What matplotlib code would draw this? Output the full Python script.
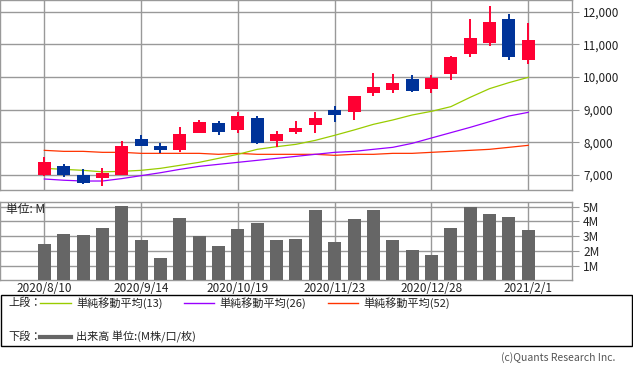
import matplotlib
matplotlib.use("Agg")
import matplotlib.pyplot as plt
from matplotlib.lines import Line2D
from matplotlib.patches import Rectangle

plt.rcParams['font.family'] = ['Noto Sans CJK JP', 'DejaVu Sans']

# ---------------- data ----------------
tick_labels = ["2020/8/10", "2020/9/14", "2020/10/19", "2020/11/23", "2020/12/28", "2021/2/1"]
tick_index = [0, 5, 10, 15, 20, 25]

opens  = [7000, 7275, 7000, 6918, 7000, 8102, 7888, 7765, 8296, 8592, 8388, 8745, 8051,
          8316, 8541, 8990, 8939, 9520, 9612, 9939, 9622, 10082, 10704, 11041, 11765, 10520]
highs  = [7551, 7347, 7184, 7214, 8041, 8224, 7990, 8469, 8694, 8663, 8929, 8816, 8347,
          8653, 8929, 9112, 9420, 10133, 10102, 10071, 10071, 10653, 11776, 12163, 11918, 11643]
lows   = [6980, 6950, 6714, 6673, 6990, 7880, 7683, 7714, 8290, 8235, 8286, 7959, 7868,
          8265, 8296, 8633, 8684, 9429, 9520, 9551, 9500, 9898, 10612, 10949, 10520, 10398]
closes = [7398, 7000, 6745, 7071, 7898, 7898, 7765, 8255, 8622, 8316, 8816, 7990, 8265,
          8439, 8745, 8837, 9418, 9694, 9816, 9582, 9980, 10622, 11184, 11673, 10612, 11122]

ma13 = [7204, 7173, 7143, 7097, 7112, 7143, 7204, 7296, 7388, 7510, 7633, 7786, 7867,
        7939, 8061, 8215, 8378, 8551, 8684, 8837, 8949, 9092, 9378, 9643, 9827, 9990]
ma26 = [6878, 6840, 6816, 6816, 6890, 6980, 7070, 7173, 7265, 7327, 7388, 7449, 7510,
        7571, 7633, 7694, 7724, 7786, 7847, 7969, 8133, 8296, 8459, 8633, 8806, 8918]
ma52 = [7755, 7724, 7724, 7694, 7694, 7663, 7663, 7663, 7663, 7633, 7663, 7633, 7633,
        7633, 7633, 7602, 7633, 7633, 7663, 7663, 7694, 7724, 7755, 7786, 7847, 7908]

volume = [2.45, 3.13, 3.06, 3.53, 5.04, 2.72, 1.51, 4.21, 2.99, 2.32, 3.47, 3.87, 2.72,
          2.79, 4.75, 2.59, 4.14, 4.75, 2.72, 2.05, 1.71, 3.53, 4.97, 4.48, 4.28, 3.40]

price_ticks = [7000, 8000, 9000, 10000, 11000, 12000]
vol_ticks = [1, 2, 3, 4, 5]

# ---------------- style ----------------
W, H = 633, 371
UP = '#ff0033'
DOWN = '#003399'
GRID = '#999999'
TXT = '#222222'
C13, C26, C52 = '#99cc00', '#9900ff', '#ff3300'
VOLC = '#666666'


def fx(px):
    return px / W


def fy(py):
    return 1 - py / H


fig = plt.figure(figsize=(W / 100, H / 100), dpi=100)
fig.patch.set_facecolor('white')

xlim = (-2.29, 27.26)
idx = list(range(len(opens)))
bw = 0.67

# ---------------- price axes ----------------
ax = fig.add_axes([fx(0), fy(190), fx(572), 190 / H])
ax.set_xlim(*xlim)
ax.set_ylim(6541, 12357)
for s in ax.spines.values():
    s.set_color(GRID)
    s.set_linewidth(1.0)
ax.set_yticks(price_ticks)
ax.set_yticklabels([f"{v:,}" for v in price_ticks])
ax.yaxis.tick_right()
ax.tick_params(axis='y', length=5, width=0.8, color=GRID, labelcolor=TXT, labelsize=8.5, pad=3)
ax.set_xticks(tick_index)
ax.tick_params(axis='x', length=0, labelbottom=False)
ax.grid(True, color=GRID, linewidth=1.0)
ax.set_axisbelow(True)

ax.plot(idx, ma52, color=C52, linewidth=0.9, zorder=2)
ax.plot(idx, ma26, color=C26, linewidth=0.9, zorder=2)
ax.plot(idx, ma13, color=C13, linewidth=0.9, zorder=2)

colors = [UP if c >= o else DOWN for o, c in zip(opens, closes)]
ax.vlines(idx, lows, highs, colors=colors, linewidth=1.4, zorder=3)
bottoms = [min(o, c) for o, c in zip(opens, closes)]
heights = [abs(c - o) for o, c in zip(opens, closes)]
ax.bar(idx, heights, bottom=bottoms, width=bw, color=colors, linewidth=0, zorder=4)

# ---------------- volume axes ----------------
ax2 = fig.add_axes([fx(0), fy(280), fx(572), (280 - 201.7) / H])
ax2.set_xlim(*xlim)
ax2.set_ylim(0.05, 5.33)
for s in ax2.spines.values():
    s.set_color(GRID)
    s.set_linewidth(1.0)
ax2.set_yticks(vol_ticks)
ax2.set_yticklabels([f"{v}M" for v in vol_ticks])
ax2.yaxis.tick_right()
ax2.tick_params(axis='y', length=5, width=0.8, color=GRID, labelcolor=TXT, labelsize=8.5, pad=3)
ax2.set_xticks(tick_index)
ax2.set_xticklabels(tick_labels)
ax2.tick_params(axis='x', length=0, labelcolor=TXT, labelsize=8.5, pad=1.5)
ax2.grid(True, color=GRID, linewidth=1.0)
ax2.set_axisbelow(True)
ax2.bar(idx, volume, width=bw, color=VOLC, linewidth=0, zorder=3)
ax2.text(fx(6), fy(209), "単位: M", transform=fig.transFigure, fontsize=8.5,
         color=TXT, va='center', ha='left', zorder=5)

# ---------------- legend box ----------------
fig.add_artist(Rectangle((fx(1), fy(346)), fx(630.5), (346 - 295.3) / H,
                         transform=fig.transFigure, fill=False, edgecolor='black', linewidth=1.0))
row1, row2 = 303, 336.5
fs = 8
fig.text(fx(8), fy(row1), "上段：", fontsize=fs, color=TXT, va='center', ha='left')
fig.text(fx(8), fy(row2), "下段：", fontsize=fs, color=TXT, va='center', ha='left')
for x0, x1, tx, col, lab in [(40, 71, 76, C13, "単純移動平均(13)"),
                             (184, 214, 219, C26, "単純移動平均(26)"),
                             (328, 358, 363, C52, "単純移動平均(52)")]:
    fig.add_artist(Line2D([fx(x0), fx(x1)], [fy(row1), fy(row1)], transform=fig.transFigure,
                          color=col, linewidth=1.0))
    fig.text(fx(tx), fy(row1), lab, fontsize=fs, color=TXT, va='center', ha='left')
fig.add_artist(Line2D([fx(40), fx(71)], [fy(row2), fy(row2)], transform=fig.transFigure,
                      color=VOLC, linewidth=3.0))
fig.text(fx(76), fy(row2), "出来高 単位:(M株/口/枚)", fontsize=fs, color=TXT, va='center', ha='left')

fig.text(fx(615), fy(358), "(c)Quants Research Inc.", fontsize=7.5, color='#555555',
         va='center', ha='right')

fig.savefig("out.png", dpi=100, facecolor='white')
